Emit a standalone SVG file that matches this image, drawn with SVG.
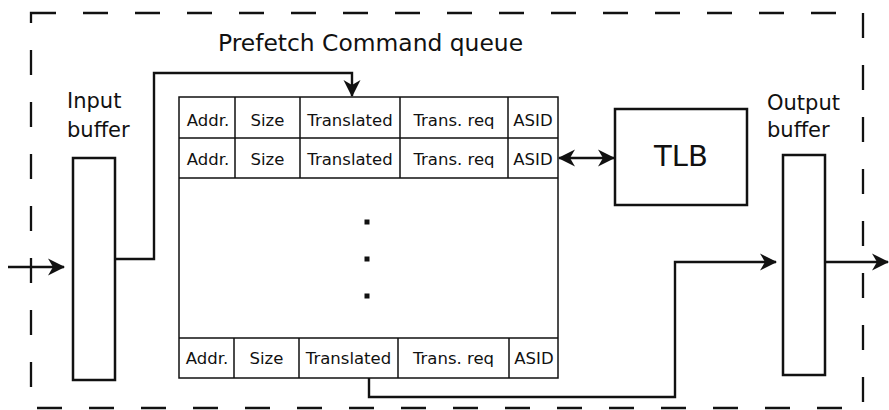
<svg xmlns="http://www.w3.org/2000/svg" width="889" height="410" viewBox="0 0 889 410">
<style>
text{font-family:"DejaVu Sans","Liberation Sans",sans-serif;fill:#111}
.cell{font-size:16.5px;text-anchor:middle}
.lbl{font-size:21px}
.box{fill:#fff;stroke:#111;stroke-width:2.5}
.tbl{fill:none;stroke:#111;stroke-width:1.5}
.con{fill:none;stroke:#111;stroke-width:2.4}
</style>
<defs>
<marker id="ah" markerUnits="userSpaceOnUse" markerWidth="20" markerHeight="20" viewBox="-18 -10 20 20" refX="0" refY="0" orient="auto-start-reverse">
<path d="M1,0 L-16,-8.5 L-11,0 L-16,8.5 Z" fill="#111"/>
</marker>
</defs>
<rect x="31" y="13" width="832" height="395" fill="none" stroke="#111" stroke-width="2.3" stroke-dasharray="25 27"/>
<text x="218" y="51" style="font-size:23.4px">Prefetch Command queue</text>
<g id="input-buffer">
<text class="lbl" x="67" y="108">Input</text>
<text class="lbl" x="67" y="137">buffer</text>
<rect class="box" x="73" y="158" width="42" height="222"/>
</g>
<g id="output-buffer">
<text class="lbl" x="767" y="110">Output</text>
<text class="lbl" x="767" y="137">buffer</text>
<rect class="box" x="783" y="155" width="42" height="220"/>
</g>
<g id="tlb">
<rect class="box" x="615" y="109" width="132" height="96"/>
<text x="681" y="166" style="font-size:29px;text-anchor:middle">TLB</text>
</g>
<g id="queue">
<rect class="tbl" x="179" y="97" width="379" height="281"/>
<path class="tbl" d="M179,138H558M179,178H558M179,338H558M235,97V178M300,97V178M400,97V178M508,97V178M234,338V378M299,338V378M398,338V378M509,338V378"/>
<text class="cell" x="208" y="126">Addr.</text>
<text class="cell" x="267.5" y="126">Size</text>
<text class="cell" x="350" y="126">Translated</text>
<text class="cell" x="454" y="126">Trans. req</text>
<text class="cell" x="533" y="126">ASID</text>
<text class="cell" x="208" y="165">Addr.</text>
<text class="cell" x="267.5" y="165">Size</text>
<text class="cell" x="350" y="165">Translated</text>
<text class="cell" x="454" y="165">Trans. req</text>
<text class="cell" x="533" y="165">ASID</text>
<text class="cell" x="207" y="364">Addr.</text>
<text class="cell" x="266.5" y="364">Size</text>
<text class="cell" x="348.5" y="364">Translated</text>
<text class="cell" x="453.5" y="364">Trans. req</text>
<text class="cell" x="534" y="364">ASID</text>
<rect x="364.5" y="219.5" width="5" height="5" fill="#111"/>
<rect x="364.5" y="256.5" width="5" height="5" fill="#111"/>
<rect x="364.5" y="293.5" width="5" height="5" fill="#111"/>
</g>
<g id="connectors">
<path class="con" d="M8,267H64" marker-end="url(#ah)"/>
<path class="con" d="M116,259H154V73H352V96" marker-end="url(#ah)"/>
<path class="con" d="M559,158H614" marker-start="url(#ah)" marker-end="url(#ah)"/>
<path class="con" d="M369,378V397H675V262H776" marker-end="url(#ah)"/>
<path class="con" d="M826,262H888" marker-end="url(#ah)"/>
</g>
</svg>
